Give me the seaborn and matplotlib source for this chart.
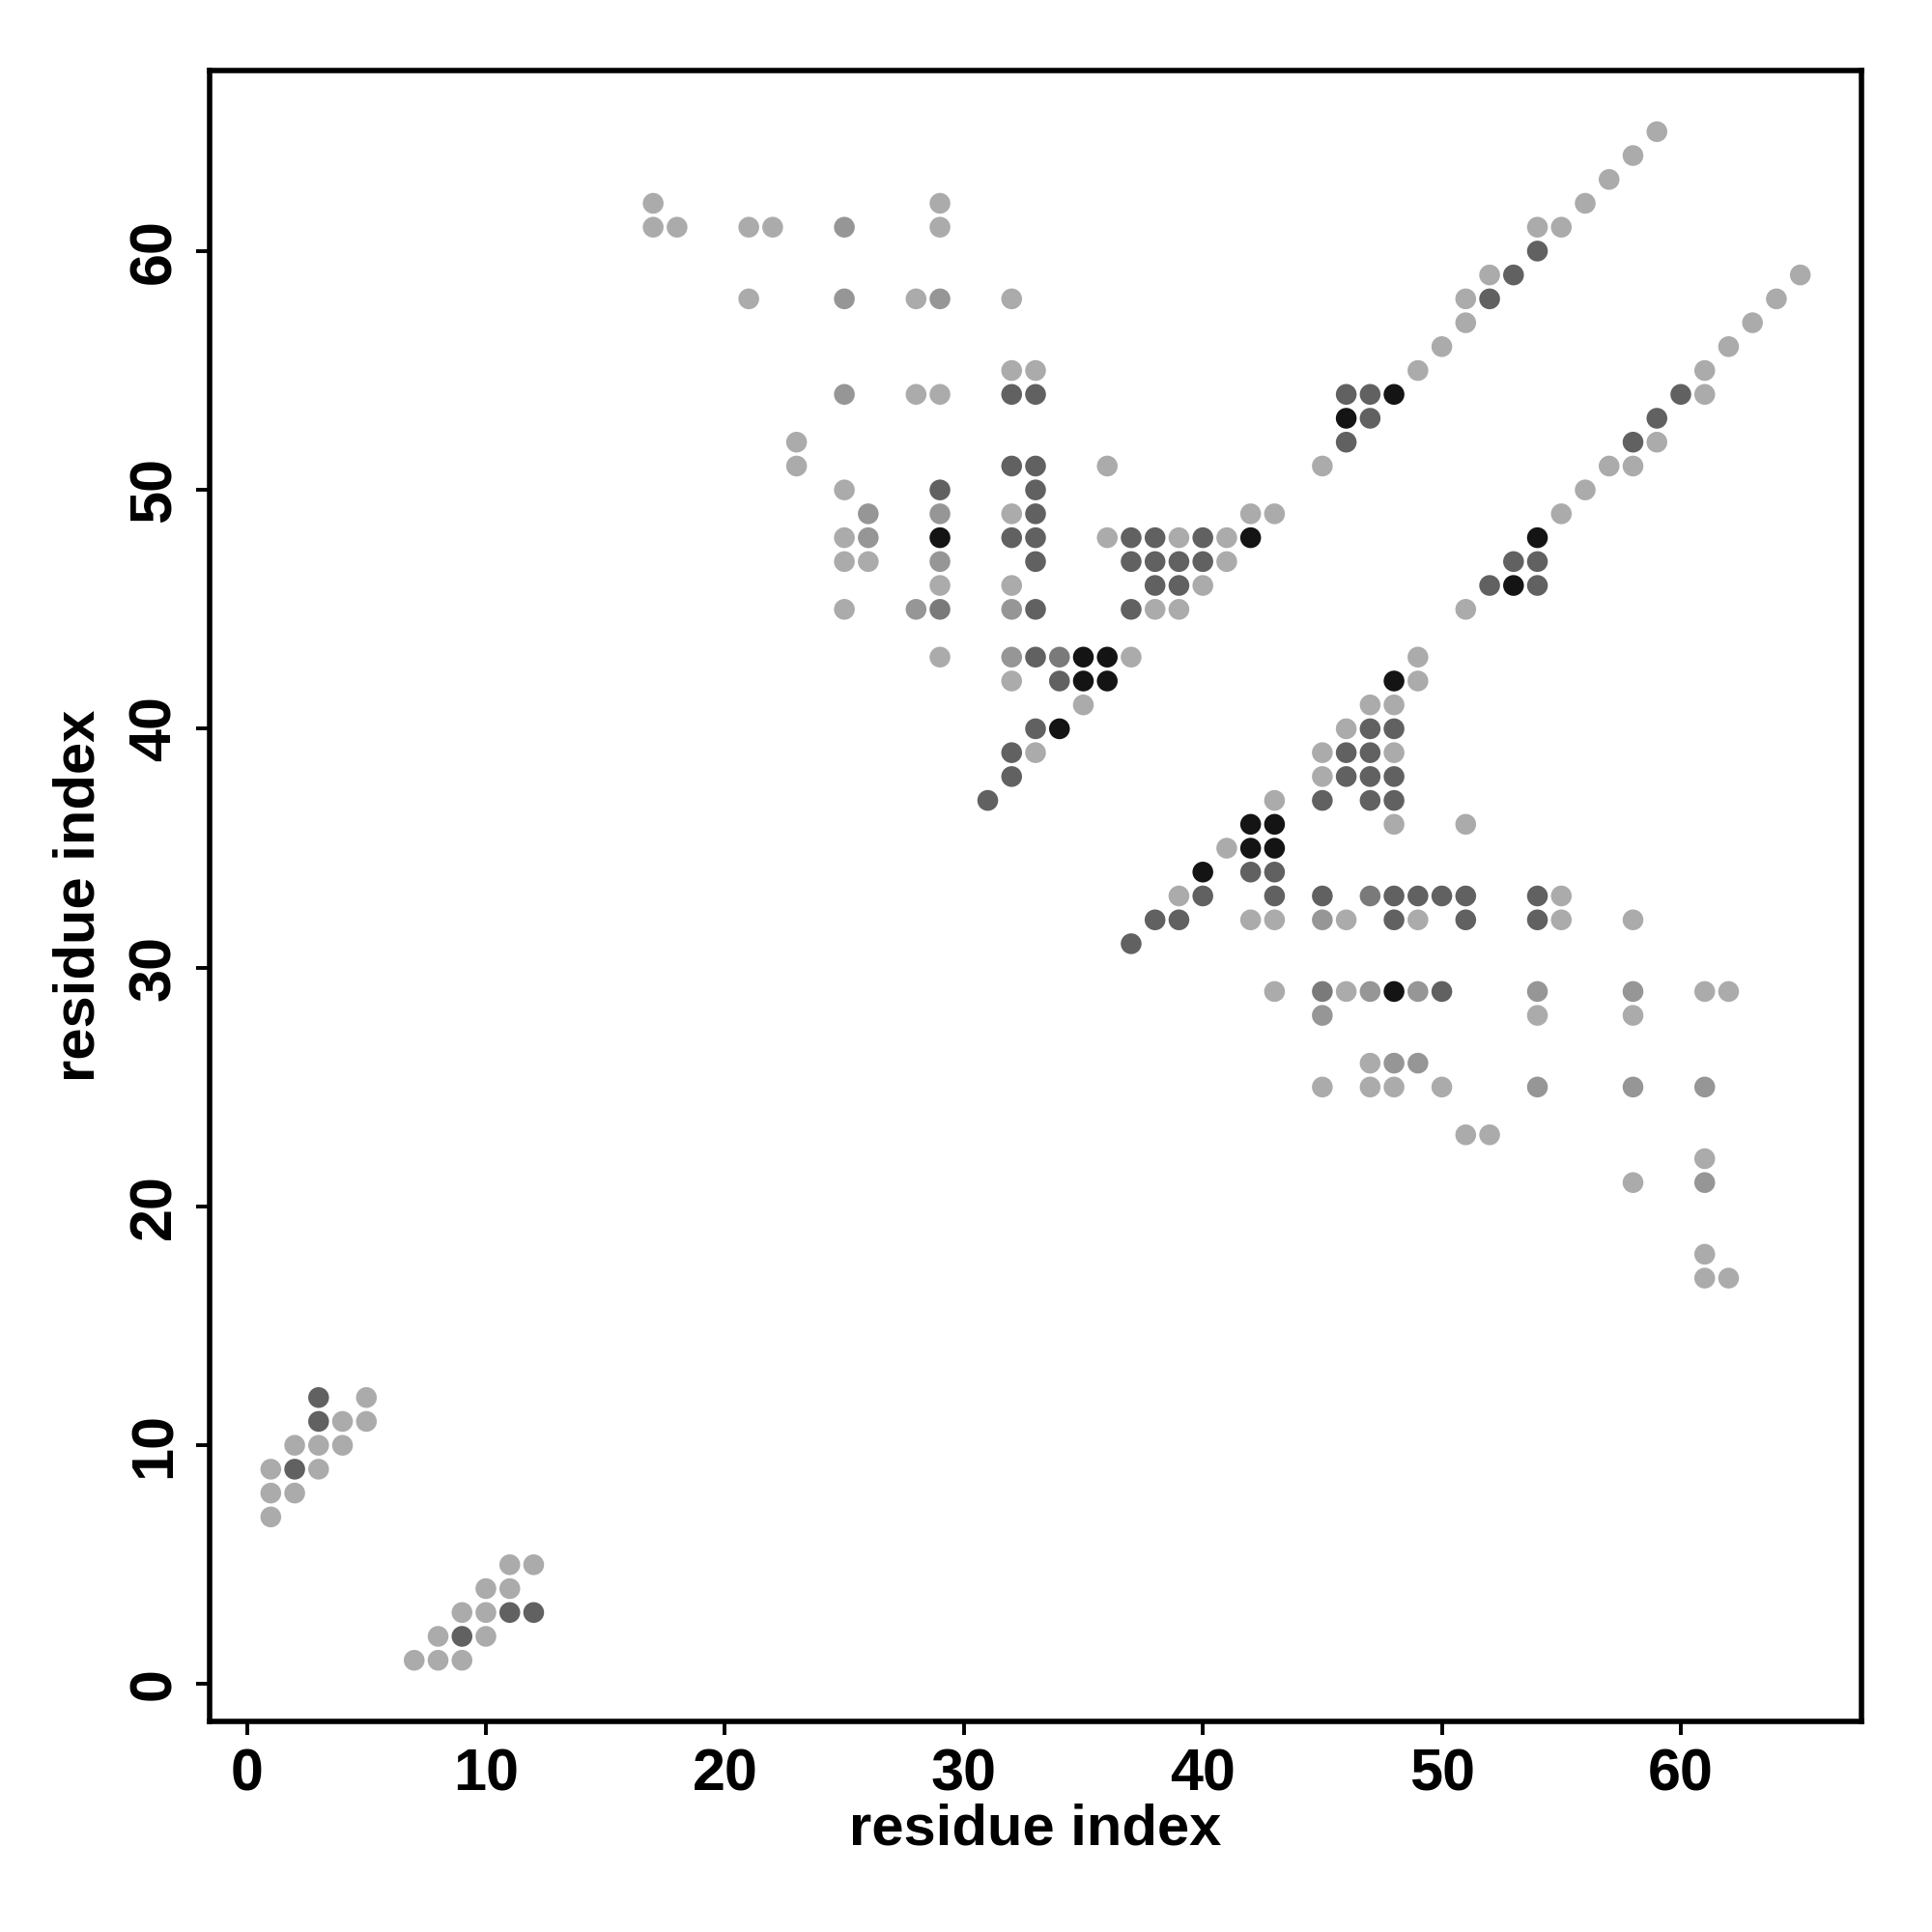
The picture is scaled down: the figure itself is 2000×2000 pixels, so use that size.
import numpy as np
import pandas as pd
import matplotlib
matplotlib.use("Agg")
import matplotlib.pyplot as plt
import seaborn as sns

# contact map: residue i, residue j, strength level (1 = weak ... 5 = strong)
res_i = [17, 29, 17, 18, 21, 22, 25, 29, 21, 25, 28, 29, 32, 32, 33,
         25, 28, 29, 32, 33, 23, 23, 32, 33, 36, 25, 29, 33,
         26, 29, 32, 33, 42, 43,
         25, 26, 29, 32, 33, 36, 37, 38, 39, 40, 41, 42,
         25, 26, 29, 33, 37, 38, 39, 40, 41,
         29, 32, 38, 39, 40,
         25, 28, 29, 32, 33, 37, 38, 39,
         29, 32, 33, 34, 35, 36, 37,
         32, 34, 35, 36, 35, 33, 34, 32, 33, 32, 31,
         45, 46, 46, 47, 46, 47, 48, 49, 50, 51, 51, 52, 52, 53, 54, 54, 55, 56, 57, 58, 59,
         51, 52, 53, 54, 53, 54, 54, 55, 56, 57, 58, 58, 59, 59, 60, 61, 61, 62, 63, 64, 65,
         49, 48, 49, 47, 48, 46, 47, 48,
         45, 46, 47, 48, 45, 46, 47, 48, 43, 45, 47, 48,
         42, 43, 48, 51, 41, 42, 43, 40, 42, 43,
         39, 40, 43, 45, 47, 48, 49, 50, 51, 54, 55,
         38, 39, 42, 43, 45, 46, 48, 49, 51, 54, 55, 58,
         37,
         43, 45, 46, 47, 48, 49, 50, 54, 58, 61, 62,
         45, 54, 58, 47, 48, 49,
         45, 47, 48, 50, 54, 58, 61,
         51, 52, 61, 58, 61, 61, 61, 62,
         3, 5, 3, 4, 5, 2, 3, 4, 1, 2, 3, 1, 2, 1,
         11, 12, 10, 11, 9, 10, 11, 12, 8, 9, 10, 7, 8, 9]
res_j = [62, 62, 61, 61, 61, 61, 61, 61, 58, 58, 58, 58, 58, 55, 55,
         54, 54, 54, 54, 54, 52, 51, 51, 51, 51, 50, 50, 50,
         49, 49, 49, 49, 49, 49,
         48, 48, 48, 48, 48, 48, 48, 48, 48, 48, 48, 48,
         47, 47, 47, 47, 47, 47, 47, 47, 47,
         46, 46, 46, 46, 46,
         45, 45, 45, 45, 45, 45, 45, 45,
         43, 43, 43, 43, 43, 43, 43,
         42, 42, 42, 42, 41, 40, 40, 39, 39, 38, 37,
         51, 52, 53, 53, 54, 54, 54, 55, 56, 57, 58, 58, 59, 59, 60, 61, 61, 62, 63, 64, 65,
         45, 46, 46, 46, 47, 47, 48, 49, 50, 51, 51, 52, 52, 53, 54, 54, 55, 56, 57, 58, 59,
         43, 42, 42, 41, 41, 40, 40, 40,
         39, 39, 39, 39, 38, 38, 38, 38, 37, 37, 37, 37,
         36, 36, 36, 36, 35, 35, 35, 34, 34, 34,
         33, 33, 33, 33, 33, 33, 33, 33, 33, 33, 33,
         32, 32, 32, 32, 32, 32, 32, 32, 32, 32, 32, 32,
         31,
         29, 29, 29, 29, 29, 29, 29, 29, 29, 29, 29,
         28, 28, 28, 26, 26, 26,
         25, 25, 25, 25, 25, 25, 25,
         23, 23, 22, 21, 21, 18, 17, 17,
         12, 12, 11, 11, 11, 10, 10, 10, 9, 9, 9, 8, 8, 7,
         5, 5, 4, 4, 3, 3, 3, 3, 2, 2, 2, 1, 1, 1]
level = [1, 1, 1, 1, 1, 1, 2, 1, 1, 2, 1, 2, 1, 1, 1,
         2, 1, 1, 4, 4, 1, 1, 4, 4, 1, 1, 4, 4,
         2, 2, 1, 4, 1, 1,
         1, 2, 5, 4, 4, 1, 4, 4, 1, 4, 1, 5,
         1, 1, 2, 4, 4, 4, 4, 4, 1,
         1, 1, 4, 4, 1,
         1, 2, 3, 2, 4, 4, 1, 1,
         1, 2, 4, 3, 5, 5, 1,
         1, 4, 5, 5, 1, 4, 5, 4, 1, 4, 4,
         1, 4, 5, 4, 4, 4, 5, 1, 1, 1, 1, 4, 1, 4, 4, 1, 1, 1, 1, 1, 1,
         1, 4, 5, 4, 4, 4, 5, 1, 1, 1, 1, 4, 1, 4, 4, 1, 1, 1, 1, 1, 1,
         1, 5, 1, 1, 1, 1, 4, 4,
         1, 4, 4, 1, 1, 4, 4, 4, 1, 4, 4, 4,
         5, 5, 1, 1, 1, 5, 5, 5, 4, 4,
         1, 4, 4, 4, 3, 4, 4, 4, 4, 4, 1,
         4, 4, 1, 1, 2, 1, 4, 1, 4, 4, 1, 1,
         4,
         1, 3, 1, 2, 5, 2, 4, 2, 2, 1, 1,
         2, 1, 1, 1, 2, 2,
         1, 1, 1, 1, 2, 2, 2,
         1, 1, 1, 1, 2, 1, 1, 1,
         4, 1, 4, 1, 1, 1, 1, 1, 1, 4, 1, 1, 1, 1,
         1, 1, 1, 1, 1, 1, 4, 4, 1, 4, 1, 1, 1, 1]

gray_levels = {1: "#ababab", 2: "#969696", 3: "#7a7a7a", 4: "#616161", 5: "#141414"}

df = pd.DataFrame({"i": res_i, "j": res_j, "level": level})

sns.set_style("white")
plt.rcParams['font.family'] = ['Liberation Sans', 'DejaVu Sans']
plt.rcParams['font.weight'] = 'bold'
plt.rcParams['text.color'] = 'black'
plt.rcParams['axes.labelcolor'] = 'black'
plt.rcParams['xtick.color'] = 'black'
plt.rcParams['ytick.color'] = 'black'

fig = plt.figure(figsize=(10, 10), dpi=200)
ax = fig.add_axes([0.1085, 0.109, 0.855, 0.8545])
sns.scatterplot(data=df, x="i", y="j", hue="level", palette=gray_levels,
                s=60, linewidth=0, legend=False, ax=ax, zorder=3)

ax.set_xlim(-1.56, 67.56)
ax.set_ylim(-1.56, 67.56)
ax.set_xticks(np.arange(0, 61, 10))
ax.set_yticks(np.arange(0, 61, 10))
ax.tick_params(axis="both", direction="out", length=5, width=1.4, color="black",
               labelcolor="black", labelsize=22, pad=5, bottom=True, left=True)
for lab in ax.get_yticklabels():
    lab.set_rotation(90)
    lab.set_va("center")
for lab in ax.get_xticklabels() + ax.get_yticklabels():
    lab.set_fontweight("bold")
for sp in ax.spines.values():
    sp.set_visible(True)
    sp.set_color("black")
    sp.set_linewidth(2.0)

ax.set_xlabel("residue index", fontsize=21.5, fontweight="bold", labelpad=0, color="black")
ax.set_ylabel("residue index", fontsize=21.5, fontweight="bold", labelpad=8, color="black")

fig.savefig("out.png", dpi=200, facecolor="white")
